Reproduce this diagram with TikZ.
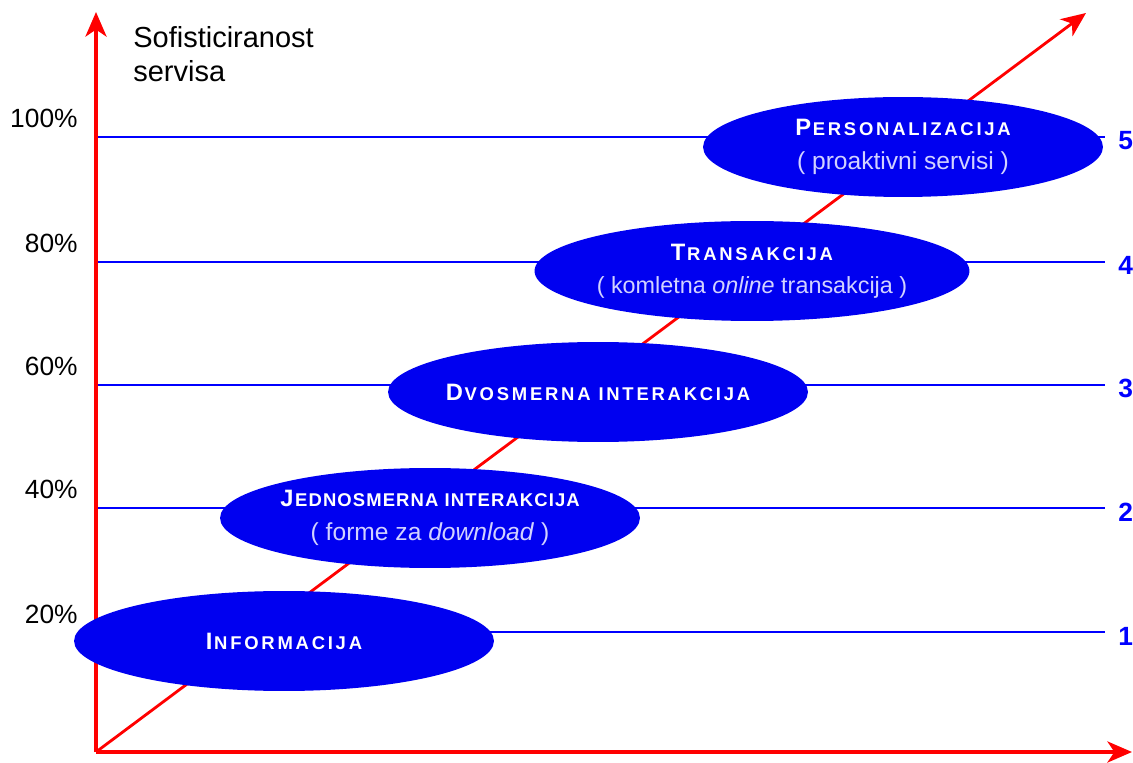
\documentclass[tikz,border=0pt]{standalone}
\usepackage{fontspec}
\setmainfont{Liberation Sans}
\usetikzlibrary{backgrounds, scopes, shapes.geometric, arrows.meta}
\definecolor{ovalblue}{RGB}{0,0,240}
\definecolor{subtext}{RGB}{210,210,255}
\newcommand{\sctitle}[3][15]{{\fontsize{13.5}{19}\selectfont #2}\kern1pt{\fontsize{10.5}{19}\addfontfeature{LetterSpace=#1}\selectfont #3}}
\newcommand{\subtitle}[2][14]{{\mdseries\fontsize{#1}{19}\selectfont\color{subtext}#2}}
\tikzset{
    stage/.style={
        ellipse,
        fill=ovalblue,
        text=white,
        align=center,
        inner xsep=-40pt,
        inner ysep=0pt,
        minimum width=8.4cm,
        minimum height=2cm,
        font=\bfseries\fontsize{13.5}{19}\selectfont
    },
    axis/.style={red, line width=2pt, -{Stealth[length=14pt, width=12pt, inset=4pt]}},
    level/.style={blue, line width=0.8pt},
    pct/.style={anchor=base east, inner sep=0pt, font=\fontsize{15}{18}\selectfont},
    num/.style={anchor=base west, inner sep=0pt, text=blue, font=\bfseries\fontsize{15}{18}\selectfont}
}

\begin{document}
\begin{tikzpicture}[x=0.02cm, y=-0.02cm]
\useasboundingbox (0,0) rectangle (1133,763);

\coordinate (O)    at (96,752);
\coordinate (ytip) at (96,12);
\coordinate (xtip) at (1132,752);
\coordinate (dtip) at (1086,13);

\node[anchor=north west, align=left, inner sep=0pt, font=\fontsize{16.5}{19.5}\selectfont]
    (title) at (133,26) {Sofisticiranost\\servisa};

\foreach \y/\p/\n in {632/20/1, 508/40/2, 385/60/3, 262/80/4, 137/100/5} {
    \coordinate (l\n) at (96,\y);
    \coordinate (r\n) at (1105,\y);
    \node[pct] (p\n) at (78,\y-9) {\p\%};
    \node[num] (n\n) at (1118,\y+13) {\n};
}

\node[stage]                       (info)  at (284,641) {\sctitle{I}{NFORMACIJA}};
\node[stage]                       (jedno) at (430,518) {\sctitle[6]{J}{EDNOSMERNA INTERAKCIJA}\\
    \subtitle{( forme za \textit{download} )}};
\node[stage]                       (dvo)   at (598,392) {\sctitle{D}{VOSMERNA INTERAKCIJA}};
\node[stage, minimum width=8.7cm]  (trans) at (752,271) {\sctitle{T}{RANSAKCIJA}\\
    \subtitle[13.3]{( komletna \textit{online} transakcija )}};
\node[stage, minimum width=8cm]    (pers)  at (903,147) {\sctitle{P}{ERSONALIZACIJA}\\
    \subtitle{( proaktivni servisi )}};

\begin{scope}[on background layer]
    \foreach \n in {1,...,5}
        \draw[level] (l\n) -- (r\n);
    \draw[axis] (O) -- (ytip);
    \draw[axis] (O) -- (xtip);
    \draw[axis, line width=1.6pt] (O) -- (dtip);
\end{scope}
\end{tikzpicture}
\end{document}
